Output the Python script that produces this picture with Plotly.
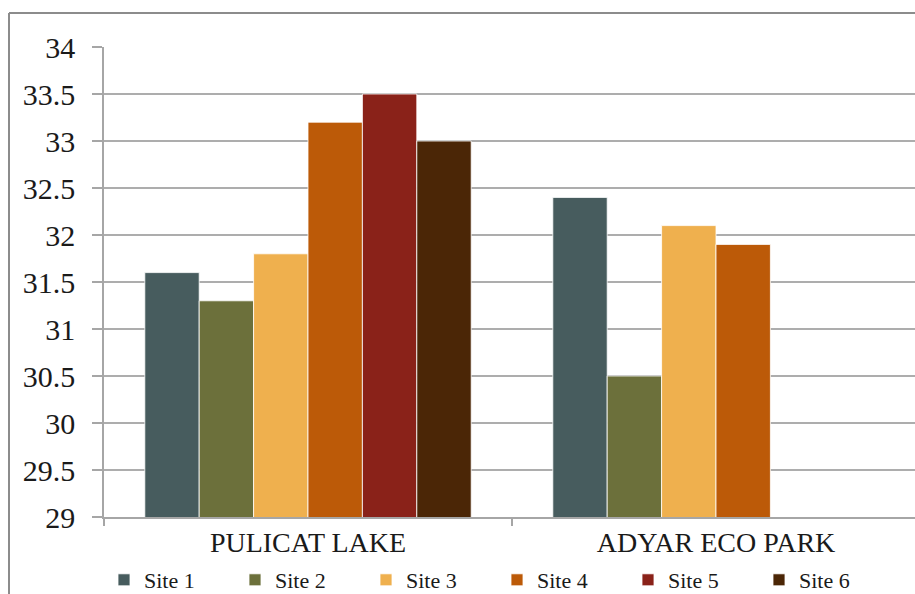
import plotly.graph_objects as go

# Water temperature by site at two locations
locations = ["PULICAT LAKE", "ADYAR ECO PARK"]
site_names = ["Site 1", "Site 2", "Site 3", "Site 4", "Site 5", "Site 6"]
site1 = [31.6, 32.4]
site2 = [31.3, 30.5]
site3 = [31.8, 32.1]
site4 = [33.2, 31.9]
site5 = [33.5, None]
site6 = [33.0, None]
y_ticks = [29, 29.5, 30, 30.5, 31, 31.5, 32, 32.5, 33, 33.5, 34]

series = [site1, site2, site3, site4, site5, site6]
colors = ["#475c5e", "#6c703b", "#efb04e", "#bc5a08", "#8a2219", "#4b2606"]

W, H = 915, 594
ML, MT, MB = 104, 47, 77
PW = W - ML
PH = H - MT - MB

FONT = "Liberation Serif, Times New Roman, serif"

fig = go.Figure()
for name, vals, col in zip(site_names, series, colors):
    fig.add_trace(go.Bar(
        x=locations, y=vals, name=name,
        marker=dict(color=col, line=dict(color="rgba(255,255,255,0.8)", width=1)),
    ))

# category width is 408px; the right end of the axis runs past the page edge
cat_px = 408
x_max = PW / cat_px - 0.5

fig.update_layout(
    width=W, height=H,
    margin=dict(l=ML, r=0, t=MT, b=MB, pad=0, autoexpand=False),
    paper_bgcolor="white", plot_bgcolor="white",
    barmode="group", bargap=0.2, bargroupgap=0,
    font=dict(family=FONT, color="#1a1a1a"),
    showlegend=True,
    legend=dict(
        orientation="h", x=0.0, xanchor="left", y=-63 / PH, yanchor="middle",
        font=dict(family=FONT, size=22, color="#1a1a1a"),
        entrywidth=86, entrywidthmode="pixels", itemwidth=30,
        tracegroupgap=0, borderwidth=0,
        bgcolor="rgba(0,0,0,0)", traceorder="normal",
    ),
    xaxis=dict(
        type="category", range=[-0.5, x_max],
        tickson="boundaries", ticks="outside", ticklen=7, tickcolor="#a6a6a6", tickwidth=1.5,
        showline=True, linecolor="#a6a6a6", linewidth=1.5, showgrid=False,
        tickfont=dict(family=FONT, size=28, color="#1a1a1a"), ticklabelstandoff=0,
        zeroline=False, fixedrange=True,
    ),
    yaxis=dict(
        range=[29, 34], tickmode="array", tickvals=y_ticks,
        ticktext=[f"{v:g}" for v in y_ticks],
        ticks="outside", ticklen=10, tickcolor="#a6a6a6", tickwidth=1.5,
        showline=True, linecolor="#a6a6a6", linewidth=1.5,
        showgrid=True, gridcolor="#adadad", gridwidth=1.6,
        tickfont=dict(family=FONT, size=30, color="#1a1a1a"), ticklabelstandoff=11,
        zeroline=False, fixedrange=True,
    ),
)

# outer frame (left and top edges visible)
fig.add_shape(type="line", xref="paper", yref="paper",
              x0=(9 - ML) / PW, x1=(W + 5 - ML) / PW,
              y0=(H - MB - 13) / PH, y1=(H - MB - 13) / PH,
              line=dict(color="#8c8c8c", width=2))
fig.add_shape(type="line", xref="paper", yref="paper",
              x0=(9 - ML) / PW, x1=(9 - ML) / PW,
              y0=(H - MB - 13) / PH, y1=-(MB + 20) / PH,
              line=dict(color="#8c8c8c", width=2))

fig.write_html("out.html")
